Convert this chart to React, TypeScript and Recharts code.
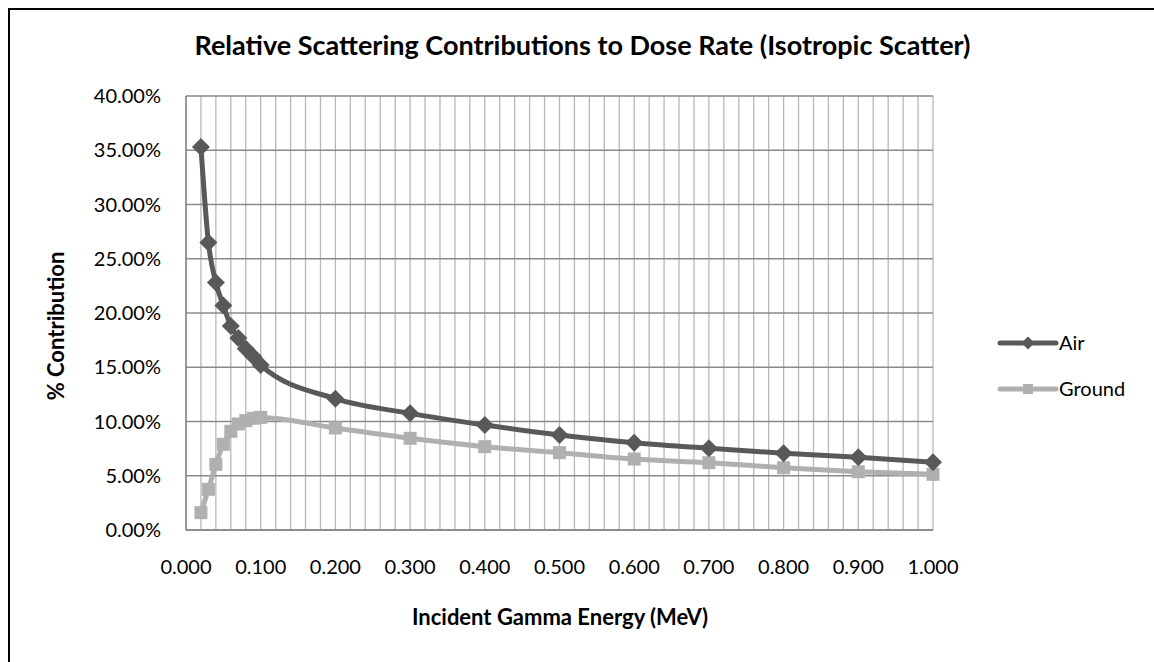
import { LineChart, Line, XAxis, YAxis, CartesianGrid } from 'recharts';

// incident gamma energy (MeV)
const energies = [0.02, 0.03, 0.04, 0.05, 0.06, 0.07, 0.08, 0.09, 0.1, 0.2, 0.3, 0.4, 0.5, 0.6, 0.7, 0.8, 0.9, 1.0];
// % contribution to dose rate
const airValues = [35.3, 26.5, 22.8, 20.7, 18.8, 17.7, 16.7, 16.0, 15.2, 12.1, 10.75, 9.68, 8.76, 8.05, 7.53, 7.07, 6.7, 6.24];
const groundValues = [1.6, 3.75, 6.05, 7.9, 9.1, 9.77, 10.08, 10.3, 10.38, 9.4, 8.45, 7.68, 7.13, 6.54, 6.2, 5.74, 5.37, 5.13];

const yTicks = [0, 5, 10, 15, 20, 25, 30, 35, 40];
// minor grid every 0.02, labels every 0.1
const xTicks = Array.from({ length: 51 }, (_, i) => Math.round(i * 2) / 100);

const AIR_COLOR = '#595959';
const GROUND_COLOR = '#b0b0b0';
const FONT = 'Lato, "Open Sans", sans-serif';

const chartData = energies.map((e, i) => ({ energy: e, air: airValues[i], ground: groundValues[i] }));

const Diamond = (props: any) => {
  const { cx, cy, size = 8, fill } = props;
  if (cx == null || cy == null) return null;
  return <path d={`M${cx},${cy - size}L${cx + size},${cy}L${cx},${cy + size}L${cx - size},${cy}Z`} fill={fill} />;
};

const Square = (props: any) => {
  const { cx, cy, size = 6, fill } = props;
  if (cx == null || cy == null) return null;
  return <rect x={cx - size} y={cy - size} width={size * 2} height={size * 2} fill={fill} />;
};

export default function App() {
  return (
    <div style={{ position: 'absolute', left: 8, top: 8, width: 1146, height: 654, overflow: 'hidden', background: '#fff', fontFamily: FONT }}>
      <div style={{ position: 'absolute', left: 0, top: 0, width: 2000, height: 2000, border: '2px solid #000', boxSizing: 'border-box' }} />
      <div style={{ position: 'absolute', left: 0, top: 0 }}>
        <LineChart width={1146} height={654} data={chartData} margin={{ top: 88, right: 221, bottom: 0, left: 0 }}>
          <CartesianGrid horizontal={false} stroke="#b8b8b8" strokeWidth={1.3} />
          <CartesianGrid vertical={false} stroke="#8a8a8a" strokeWidth={1.3} />
          <XAxis
            type="number"
            dataKey="energy"
            domain={[0, 1]}
            ticks={xTicks}
            interval={0}
            tickFormatter={(v: number, i: number) => (i % 5 === 0 ? v.toFixed(3) : '')}
            tickLine={false}
            tickSize={0}
            tickMargin={30}
            axisLine={{ stroke: '#868686', strokeWidth: 1.5 }}
            height={132}
            tick={{ fontSize: 20, fill: '#000', fontFamily: FONT }}
          />
          <YAxis
            type="number"
            domain={[0, 40]}
            ticks={yTicks}
            interval={0}
            tickFormatter={(v: number) => v.toFixed(2) + '%'}
            tickLine={false}
            tickSize={0}
            tickMargin={25}
            axisLine={{ stroke: '#868686', strokeWidth: 1.5 }}
            width={178}
            tick={{ fontSize: 20, fill: '#000', fontFamily: FONT }}
          />
          <Line
            type="monotone"
            dataKey="ground"
            stroke={GROUND_COLOR}
            strokeWidth={5}
            dot={(p: any) => <Square key={`g${p.index}`} cx={p.cx} cy={p.cy} size={6.5} fill={GROUND_COLOR} />}
            activeDot={false}
            isAnimationActive={false}
          />
          <Line
            type="monotone"
            dataKey="air"
            stroke={AIR_COLOR}
            strokeWidth={5}
            dot={(p: any) => <Diamond key={`a${p.index}`} cx={p.cx} cy={p.cy} size={9} fill={AIR_COLOR} />}
            activeDot={false}
            isAnimationActive={false}
          />
        </LineChart>
      </div>
      <svg width={1146} height={654} style={{ position: 'absolute', left: 0, top: 0, pointerEvents: 'none' }}>
        <text x={574.5} y={47} textAnchor="middle" fontWeight="bold" fontSize={27} fontFamily={FONT} fill="#000">
          Relative Scattering Contributions to Dose Rate (Isotropic Scatter)
        </text>
        <text x={552} y={617} textAnchor="middle" fontWeight="bold" fontSize={22} fontFamily={FONT} fill="#000">
          Incident Gamma Energy (MeV)
        </text>
        <text transform="translate(56,318) rotate(-90)" textAnchor="middle" fontWeight="bold" fontSize={22} fontFamily={FONT} fill="#000">
          % Contribution
        </text>
        <line x1={992} y1={335} x2={1048} y2={335} stroke={AIR_COLOR} strokeWidth={5} strokeLinecap="round" />
        <Diamond cx={1020} cy={335} size={6.5} fill={AIR_COLOR} />
        <text x={1051} y={342} fontSize={20} fontFamily={FONT} fill="#000">Air</text>
        <line x1={992} y1={381} x2={1048} y2={381} stroke={GROUND_COLOR} strokeWidth={5} strokeLinecap="round" />
        <Square cx={1020} cy={381} size={5} fill={GROUND_COLOR} />
        <text x={1051} y={388} fontSize={20} fontFamily={FONT} fill="#000">Ground</text>
      </svg>
    </div>
  );
}
